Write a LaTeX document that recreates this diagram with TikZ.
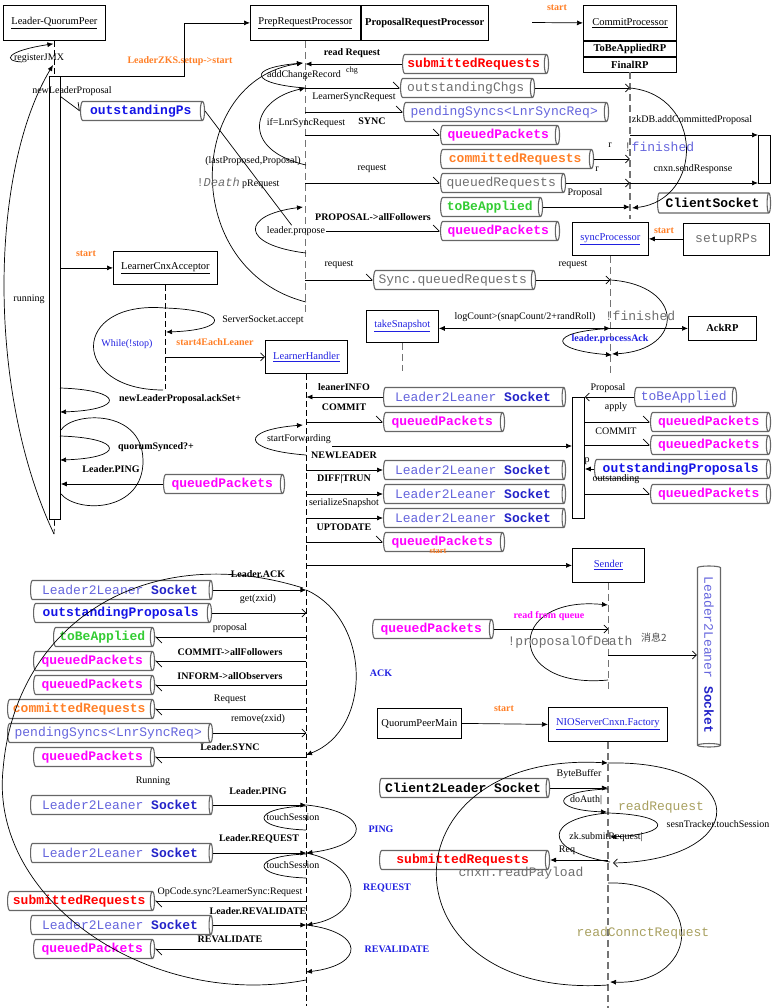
\documentclass[tikz,border=0pt]{standalone}
\usepackage{fontspec}
\setmainfont{Liberation Serif}
\setmonofont{Liberation Mono}
\newfontfamily\cjk{Noto Sans CJK SC}
\usepackage{tikz}
\usetikzlibrary{positioning,arrows.meta,shapes.geometric,calc}
\definecolor{zkOrange}{HTML}{FF7F27}
\definecolor{zkRed}{HTML}{FF0000}
\definecolor{zkMag}{HTML}{FF00FF}
\definecolor{zkBlue}{HTML}{1414E6}
\definecolor{zkSock}{HTML}{2323C8}
\definecolor{zkLight}{HTML}{6464DC}
\definecolor{zkGreen}{HTML}{33CC33}
\definecolor{zkGray}{HTML}{6E6E6E}
\definecolor{zkOlive}{HTML}{A8A060}
\definecolor{zkLink}{HTML}{2020E0}
\newcommand{\lsock}{{\mdseries\color{zkLight}Leader2Leaner} \textcolor{zkSock}{Socket}}

\begin{document}
\begin{tikzpicture}[x=1pt, y=-1pt,
  every node/.style={font=\fontsize{10}{11}\selectfont, inner sep=1pt},
  obj/.style={rectangle, draw=black, line width=0.8pt, anchor=north west, inner sep=0pt,
              font=\fontsize{10.5}{12}\selectfont},
  pipe/.style={cylinder, shape border rotate=0, aspect=0.3, draw=black!60, line width=1.1pt,
              minimum width=19pt, inner sep=1pt, anchor=west,
              font=\ttfamily\bfseries\fontsize{13}{13}\selectfont},
  bl/.style={font=\bfseries\fontsize{10}{11}\selectfont},
  ol/.style={bl, text=zkOrange},
  vl/.style={bl, text=zkLink},
  ml/.style={font=\ttfamily\fontsize{13}{13}\selectfont, text=zkGray},
  arr/.style={-{Latex[length=6pt,width=5pt]}, line width=0.7pt},
  oarr/.style={-{Straight Barb[length=4pt,width=8pt]}, line width=0.7pt},
  stub/.style={-{Straight Barb[harpoon,length=6pt,width=12pt]}, line width=0.7pt},
  curv/.style={line width=0.7pt},
  gline/.style={draw=black!55, line width=1.3pt, dash pattern=on 7pt off 4pt},
  bline/.style={draw=black, line width=0.7pt, dash pattern=on 6pt off 3pt}
]
  \useasboundingbox (0,0) rectangle (774,1008);
  % ---- objects ----
  \node[obj, minimum width=102pt, minimum height=35pt] (lqp) at (3,5) {\underline{Leader-QuorumPeer}};
  \node[obj, minimum width=11.5pt, minimum height=443pt] (lbar) at (48.5,76) {};
  \node[obj, minimum width=110pt, minimum height=35pt] (prep) at (250,5) {\underline{PrepRequestProcessor}};
  \node[obj, minimum width=127pt, minimum height=35pt, right=0pt of prep] (prop) {\textbf{ProposalRequestProcessor}};
  \node[obj, minimum width=93pt, minimum height=35pt] (commit) at (583,5) {\underline{CommitProcessor}};
  \node[obj, minimum width=93pt, minimum height=15pt, below=0pt of commit] (tbarp) {\textbf{ToBeAppliedRP}};
  \node[obj, minimum width=93pt, minimum height=15pt, below=0pt of tbarp] (finrp) {\textbf{FinalRP}};
  \node[obj, minimum width=12pt, minimum height=48pt] (clbar) at (758,135) {};
  \node[obj, minimum width=76pt, minimum height=33pt, text=zkLink] (syncp) at (572,222) {\underline{syncProcessor}};
  \node[obj, minimum width=86pt, minimum height=32pt, font=\ttfamily\fontsize{13}{13}\selectfont, text=zkGray] (setup) at (683,223) {setupRPs};
  \node[obj, minimum width=72pt, minimum height=32pt, text=zkLink] (snap) at (366,310) {\underline{takeSnapshot}};
  \node[obj, minimum width=68pt, minimum height=24pt] (ackrp) at (688,316) {\textbf{AckRP}};
  \node[obj, minimum width=104pt, minimum height=33pt] (lca) at (113,251) {\underline{LearnerCnxAcceptor}};
  \node[obj, minimum width=82pt, minimum height=33pt, text=zkLink] (lh) at (265,340) {\underline{LearnerHandler}};
  \node[obj, minimum width=12pt, minimum height=121pt] (rbar) at (572,397) {};
  \node[obj, minimum width=72pt, minimum height=34pt, text=zkLink] (sender) at (572,548) {\underline{Sender}};
  \node[obj, minimum width=84pt, minimum height=30pt] (qpm) at (377,708) {QuorumPeerMain};
  \node[obj, minimum width=119pt, minimum height=34pt, text=zkLink] (nio) at (548,707) {\underline{NIOServerCnxn.Factory}};
  % ---- lifelines ----
  \coordinate (lqpend) at (54,534);
  \draw[bline] (lqp.south) -- (lbar.north -| lqp.south);
  \draw[bline] (lbar.south) -- (lqpend);
  \draw[gline] (prep.south) -- ++(0,272);
  \draw[gline] (finrp.south -| commit) -- ++(0,147);
  \draw[gline] (syncp.south) -- ++(0,117);
  \draw[gline] (snap.south) -- ++(0,28);
  \draw[bline] (lca.south) -- ++(0,104);
  \draw[bline] (lh.south) -- ++(0,632);
  \draw[gline] (sender.south) -- ++(0,108);
  \draw[gline] (nio.south) -- (nio.south |- 0,1008);
  % ---- queues, top ----
  \node[pipe, minimum height=124pt, text=zkBlue] (outPs) at (80,111) {outstandingPs};
  \node[pipe, minimum height=146pt, text=zkRed] (sub1) at (402,64) {submittedRequests};
  \node[pipe, minimum height=134pt, text=zkGray, font=\ttfamily\fontsize{13}{13}\selectfont] (chg) at (400,88) {outstandingChgs};
  \node[pipe, minimum height=205pt, text=zkLight, font=\ttfamily\fontsize{13}{13}\selectfont] (psync1) at (403,112) {pendingSyncs<LnrSyncReq>};
  \node[pipe, minimum height=119pt, text=zkMag] (qp1) at (440,135) {queuedPackets};
  \node[pipe, minimum height=153pt, text=zkOrange] (cr1) at (440,159) {committedRequests};
  \node[pipe, minimum height=125pt, text=zkGray, font=\ttfamily\fontsize{13}{13}\selectfont] (qr1) at (440,183) {queuedRequests};
  \node[pipe, minimum height=102pt, text=zkGreen] (tba1) at (440,207) {toBeApplied};
  \node[pipe, minimum height=119pt, text=zkMag] (qp2) at (440,231) {queuedPackets};
  \node[pipe, minimum height=113pt, minimum width=20pt] (csock) at (657,203) {ClientSocket};
  \node[pipe, minimum height=162pt, text=zkGray, font=\ttfamily\fontsize{13}{13}\selectfont] (sqr) at (373,280) {Sync.queuedRequests};
  \node[pipe, minimum height=121pt, text=zkMag] (qp3) at (163,484) {queuedPackets};
  % ---- Leader-QuorumPeer ----
  \draw[arr] (lbar.north west) -- ++(136,0) |- (prep.west);
  \node[ol] (tZks) at (180,61) {LeaderZKS.setup->start};
  \coordinate (jmx) at (22,62);
  \draw[arr] (jmx) .. controls (2,61) and (6,51) .. ($(lqp.south)+(-1,3)$);
  \node (tJmx) at (39,58) {registerJMX};
  \draw[arr] (lqpend) .. controls (-14,390) and (-10,170) .. (53,65);
  \node (tRun) at (29,299) {running};
  \node (tNlp) at (72,91) {newLeaderProposal};
  \draw[stub] (lbar.east |- tNlp.south) -- (outPs.west);
  \coordinate (cpin) at (532,22.5);
  \draw[arr] (cpin) -- (commit.west);
  \node[ol] (tSt1) at (557,8) {start};
  % ---- PrepRequestProcessor ----
  \draw[arr] (sub1.west) -- (sub1.west -| prep);
  \node[bl] (tRead) at (352,53) {read Request};
  \draw[stub] (chg.west -| prep) -- (chg.west);
  \draw[oarr] (chg.east) -- (chg.east -| commit);
  \draw[arr, curv] (chg.west -| prep) .. controls (250,84) and (246,68) .. (303,63);
  \node (tAcr) at (304,75) {addChangeRecord};
  \node[font=\fontsize{8}{9}\selectfont] (tChg) at (352,71) {chg};
  \draw[arr, curv] (306,302) .. controls (180,270) and (185,80) .. (303,63);
  \node (tLast) at (253,161) {(lastProposed,Proposal)};
  \node (tDeath) at (238,183) {{\ttfamily\fontsize{12}{12}\selectfont\color{zkGray}!\textit{Death}} pRequest};
  \draw[stub] (psync1.west -| prep) -- (psync1.west);
  \node (tLsr) at (354,97) {LearnerSyncRequest};
  \draw[arr, curv] (306,165) .. controls (240,150) and (250,100) .. (chg.west -| prep);
  \node (tIf) at (306,123) {if=LnrSyncRequest};
  \draw[stub] (qp1.west -| prep) -- (qp1.west);
  \node[bl] (tSync) at (372,121) {SYNC};
  \draw[oarr] (cr1.east) -- (cr1.east -| commit);
  \node (tR1) at (610,145) {r};
  \node (tR2) at (597,169) {r};
  \draw[stub] (qr1.west -| prep) -- (qr1.west);
  \node (tReq1) at (372,169) {request};
  \draw[oarr] (qr1.east) -- (qr1.east -| commit);
  \draw[arr] (qr1.east -| commit) -- (qr1.east -| clbar.west);
  \node (tProp1) at (585,193) {Proposal};
  \draw[arr] (clbar.north west -| commit) -- (clbar.north west);
  \node (tZkdb) at (692,120) {zkDB.addCommittedProposal};
  \node (tSend) at (693,169) {cnxn.sendResponse};
  \draw[arr, curv] (chg.east -| commit) .. controls (704,95) and (704,200) .. (632,208);
  \node[font=\ttfamily\fontsize{13}{13}\selectfont] (tFin1) at (659,147) {\textcolor{zkGray}{!}\textcolor{zkLight}{finished}};
  \draw[arr] (tba1.east) -- (tba1.east -| commit);
  \node[bl] (tPaf) at (373,217) {PROPOSAL->allFollowers};
  \draw[arr, curv] (306,253) .. controls (240,245) and (240,215) .. (303,207);
  \node (tLprop) at (296,231) {leader.propose};
  \draw[stub] (tLprop.east) -- (qp2.west);
  \draw[curv] (outPs.east) -- (tLprop);
  % ---- syncProcessor ----
  \draw[stub] (sqr.west -| prep) -- (sqr.west);
  \node (tReq2) at (339,265) {request};
  \draw[oarr] (sqr.east) -- (sqr.east -| syncp);
  \node (tReq3) at (573,265) {request};
  \draw[arr] (setup.west |- syncp.east) -- (syncp.east);
  \node[ol] (tSt2) at (664,231) {start};
  \draw[arr, curv] (sqr.east -| syncp) .. controls (685,285) and (685,350) .. (612,354);
  \node[ml] (tFin2) at (640,316) {!finished};
  \draw[{Latex[length=6pt,width=5pt]}-{Latex[length=6pt,width=5pt]}, line width=0.7pt] (ackrp.west -| snap.east) -- (ackrp.west -| syncp);
  \node (tLog) at (525,317) {logCount>(snapCount/2+randRoll)};
  \draw[arr] (ackrp.west -| syncp) -- (ackrp.west);
  \draw[arr, curv] (ackrp.west -| syncp) .. controls (545,332) and (550,350) .. (612,355);
  \node[vl] (tPack) at (610,339) {leader.processAck};
  % ---- LearnerCnxAcceptor ----
  \draw[arr] (lbar.east |- lca.west) -- (lca.west);
  \node[ol] (tSt3) at (86,254) {start};
  \draw[arr, curv] (165,308) .. controls (230,310) and (230,330) .. (166,332);
  \node (tAcc) at (263,320) {ServerSocket.accept};
  \draw[curv] (163,390) .. controls (70,390) and (70,300) .. (165,308);
  \node[text=zkLink] (tWhile) at (127,344) {While(!stop)};
  \draw[oarr] (lh.west -| lca) -- (lh.west);
  \node[ol] (tSt4) at (215,342) {start4EachLeaner};
  \draw[arr, curv] (60,388) .. controls (125,390) and (125,410) .. (60,412);
  \node[bl] (tAck) at (180,399) {newLeaderProposal.ackSet+};
  \draw[arr, curv] (60,436) .. controls (125,438) and (125,458) .. (60,460);
  \node[bl] (tQs) at (156,447) {quorumSynced?+};
  \draw[curv] (61,430) .. controls (72,412) and (142,408) .. (143,460) .. controls (144,512) and (78,514) .. (61,494);
  \draw[arr] (qp3.west) -- (qp3.west -| lbar.east);
  \node[bl] (tPing1) at (111,469) {Leader.PING};
  % ---- LearnerHandler, right side ----
  \node[pipe, minimum height=182pt] (l2l1) at (383,397) {\lsock};
  \node[pipe, minimum height=121pt, text=zkMag] (qp4) at (383,422) {queuedPackets};
  \node[pipe, minimum height=182pt] (l2l2) at (383,470) {\lsock};
  \node[pipe, minimum height=182pt] (l2l3) at (383,494) {\lsock};
  \node[pipe, minimum height=182pt] (l2l4) at (383,518) {\lsock};
  \node[pipe, minimum height=121pt, text=zkMag] (qp8) at (383,542) {queuedPackets};
  \draw[arr] (l2l1.west) -- (l2l1.west -| lh);
  \node[bl] (tInfo) at (344,387) {leanerINFO};
  \draw[stub] (qp4.west -| lh) -- (qp4.west);
  \node[bl] (tCom1) at (344,407) {COMMIT};
  \draw[arr, curv] (306,455) .. controls (240,450) and (240,430) .. (303,425);
  \node (tSfw) at (299,439) {startForwarding};
  \draw[arr] (tSfw.east |- 0,446) -- (rbar.west |- 0,446);
  \draw[arr] (l2l2.west -| lh) -- (l2l2.west);
  \node[bl] (tNewl) at (344,455) {NEWLEADER};
  \draw[arr] (l2l3.west -| lh) -- (l2l3.west);
  \node[bl] (tDiff) at (344,479) {DIFF|TRUN};
  \draw[arr] (l2l4.west -| lh) -- (l2l4.west);
  \node (tSer) at (344,503) {serializeSnapshot};
  \draw[stub] (qp8.west -| lh) -- (qp8.west);
  \node[bl] (tUpto) at (344,527) {UPTODATE};
  \draw[arr] (sender.west -| lh) -- (sender.west);
  \node[ol, font=\bfseries\fontsize{8.5}{9}\selectfont] (tSt5) at (438,551) {start};
  % ---- activation on the right ----
  \node[pipe, minimum height=102pt, text=zkLight, font=\ttfamily\fontsize{13}{13}\selectfont] (tba2) at (634,397) {toBeApplied};
  \node[pipe, minimum height=120pt, text=zkMag] (qp5) at (650,422) {queuedPackets};
  \node[pipe, minimum height=120pt, text=zkMag] (qp6) at (650,445) {queuedPackets};
  \node[pipe, minimum height=176pt, text=zkBlue] (outP1) at (594,469) {outstandingProposals};
  \node[pipe, minimum height=120pt, text=zkMag] (qp7) at (650,494) {queuedPackets};
  \draw[oarr] (tba2.west) -- (tba2.west -| rbar.east);
  \node (tProp2) at (608,388) {Proposal};
  \draw[stub] (qp5.west -| rbar.east) -- (qp5.west);
  \node (tApply) at (616,407) {apply};
  \draw[stub] (qp6.west -| rbar.east) -- (qp6.west);
  \node (tCom2) at (616,431) {COMMIT};
  \draw[arr] (outP1.west) -- (outP1.west -| rbar.east);
  \node (tP) at (587,461) {p};
  \draw[stub] (qp7.west -| rbar.east) -- (qp7.west);
  \node (tOut) at (616,479) {outstanding};
  % ---- Sender ----
  \node[pipe, minimum height=121pt, text=zkMag] (qp9) at (372,629) {queuedPackets};
  \node[pipe, anchor=center, rotate=-90, minimum height=181pt, minimum width=23pt] (l2lv) at (709,655) {\lsock};
  \draw[arr, curv] (608,680) .. controls (505,690) and (505,595) .. (608,605);
  \node[bl, text=zkMag] (tRfq) at (549,616) {read from queue};
  \draw[oarr] (qp9.east) -- (qp9.east -| sender);
  \node[ml] (tPod) at (570,642) {!proposalOfDeath};
  \draw[oarr] (l2lv.south -| sender) -- (l2lv.south);
  \node[font=\cjk\fontsize{10}{11}\selectfont, text=black!70] (tMsg) at (654,638) {消息2};
  \node[vl] (tAckB) at (381,673) {ACK};
  % ---- QuorumPeerMain / NIOServerCnxn.Factory ----
  \draw[arr] (qpm.east) -- (nio.west);
  \node[ol] (tSt6) at (504,709) {start};
  \node[pipe, minimum height=170pt] (c2l) at (379,788) {Client2Leader Socket};
  \node[pipe, minimum height=170pt, text=zkRed] (sub2) at (379,860) {submittedRequests};
  \draw[arr, curv] (608,985) .. controls (380,1000) and (380,750) .. (608,763);
  \draw[oarr, curv] (608,763) .. controls (752,760) and (752,860) .. (613,863);
  \node[ml, text=zkOlive] (tRr) at (661,807) {readRequest};
  \draw[arr] (c2l.east) -- (c2l.east -| nio);
  \node (tBb) at (579,774) {ByteBuffer};
  \draw[arr, curv] (608,789) .. controls (550,791) and (550,810) .. (607,812);
  \node (tAuth) at (586,800) {doAuth|};
  \draw[arr, curv] (608,813) .. controls (673,815) and (673,834) .. (610,837);
  \node (tSesn) at (718,824) {sesnTracker.touchSession};
  \draw[curv] (608,813) .. controls (545,818) and (540,850) .. (610,862);
  \node (tSubm) at (606,837) {zk.submitRequest|};
  \node (tRq) at (567,850) {Req};
  \draw[arr] (sub2.east -| nio) -- (sub2.east);
  \node[ml] (tPay) at (521,873) {cnxn.readPayload};
  \draw[arr, curv] (608,883) .. controls (705,880) and (705,985) .. (610,982);
  \node[ml, text=zkOlive] (tRcr) at (643,933) {readConnctRequest};
  % ---- LearnerHandler, left side ----
  \node[pipe, minimum height=182pt] (l2l5) at (30,590) {\lsock};
  \node[pipe, minimum height=178pt, text=zkBlue] (outP2) at (33,613) {outstandingProposals};
  \node[pipe, minimum height=101pt, text=zkGreen] (tba3) at (53,637) {toBeApplied};
  \node[pipe, minimum height=121pt, text=zkMag] (qp10) at (33,661) {queuedPackets};
  \node[pipe, minimum height=121pt, text=zkMag] (qp11) at (33,685) {queuedPackets};
  \node[pipe, minimum height=147pt, text=zkOrange] (cr2) at (7,709) {committedRequests};
  \node[pipe, minimum height=205pt, text=zkLight, font=\ttfamily\fontsize{13}{13}\selectfont] (psync2) at (7,733) {pendingSyncs<LnrSyncReq>};
  \node[pipe, minimum height=121pt, text=zkMag] (qp12) at (33,757) {queuedPackets};
  \node[pipe, minimum height=182pt] (l2l6) at (30,805) {\lsock};
  \node[pipe, minimum height=182pt] (l2l7) at (30,853) {\lsock};
  \node[pipe, minimum height=147pt, text=zkRed] (sub3) at (7,901) {submittedRequests};
  \node[pipe, minimum height=182pt] (l2l8) at (30,925) {\lsock};
  \node[pipe, minimum height=121pt, text=zkMag] (qp13) at (33,949) {queuedPackets};
  \draw[arr] (l2l5.east) -- (l2l5.east -| lh);
  \node[bl] (tLack) at (258,574) {Leader.ACK};
  \draw[oarr] (outP2.east) -- (outP2.east -| lh);
  \node (tGet) at (258,599) {get(zxid)};
  \draw[stub] (tba3.east -| lh) -- (tba3.east);
  \node (tProp3) at (230,628) {proposal};
  \draw[stub] (qp10.east -| lh) -- (qp10.east);
  \node[bl] (tCaf) at (230,652) {COMMIT->allFollowers};
  \draw[stub] (qp11.east -| lh) -- (qp11.east);
  \node[bl] (tInf) at (230,676) {INFORM->allObservers};
  \draw[stub] (cr2.east -| lh) -- (cr2.east);
  \node (tReq4) at (230,699) {Request};
  \draw[oarr] (psync2.east) -- (psync2.east -| lh);
  \node (tRem) at (258,719) {remove(zxid)};
  \draw[stub] (qp12.east -| lh) -- (qp12.east);
  \node[bl] (tLsync) at (230,747) {Leader.SYNC};
  \node (tRunning) at (153,781) {Running};
  \draw[arr] (l2l6.east) -- (l2l6.east -| lh);
  \node[bl] (tLping) at (258,791) {Leader.PING};
  \draw[curv] (306,806) .. controls (250,808) and (250,828) .. (306,830);
  \node (tTs1) at (293,817) {touchSession};
  \draw[arr] (l2l7.east) -- (l2l7.east -| lh);
  \node[bl] (tLreq) at (259,839) {Leader.REQUEST};
  \draw[curv] (306,854) .. controls (250,856) and (250,876) .. (306,878);
  \node (tTs2) at (293,865) {touchSession};
  \draw[stub] (sub3.east -| lh) -- (sub3.east);
  \node (tOpc) at (230,892) {OpCode.sync?LearnerSync:Request};
  \draw[arr] (l2l8.east) -- (l2l8.east -| lh);
  \node[bl] (tLrev) at (258,911) {Leader.REVALIDATE};
  \draw[stub] (qp13.east -| lh) -- (qp13.east);
  \node[bl] (tRev) at (230,939) {REVALIDATE};
  % ---- arcs on LearnerHandler ----
  \draw[arr, curv] (l2l5.east -| lh) .. controls (372,620) and (372,730) .. (306,755);
  \draw[arr, curv] (l2l6.east -| lh) .. controls (372,812) and (372,845) .. (l2l7.east -| lh);
  \node[vl] (tPing2) at (381,829) {PING};
  \draw[arr, curv] (l2l7.east -| lh) .. controls (365,865) and (365,915) .. (l2l8.east -| lh);
  \node[vl] (tReq5) at (387,888) {REQUEST};
  \draw[arr, curv] (l2l8.east -| lh) .. controls (365,932) and (365,965) .. (306,972);
  \node[vl] (tRev2) at (397,949) {REVALIDATE};
  \draw[curv] (306,980) .. controls (150,1010) and (-10,900) .. (3,770) .. controls (15,620) and (150,540) .. (303,588);
\end{tikzpicture}
\end{document}
